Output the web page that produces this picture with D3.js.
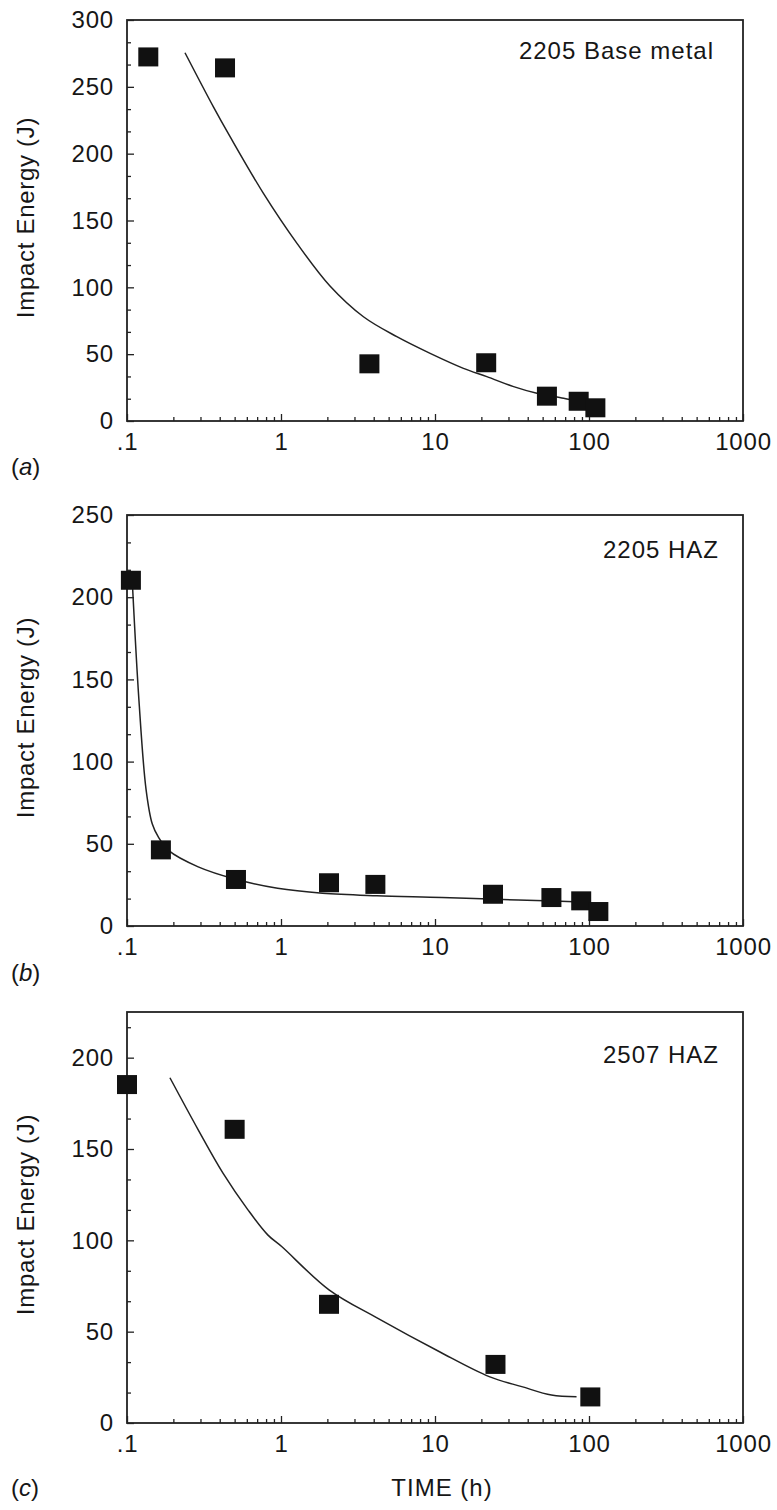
<!DOCTYPE html>
<html>
<head>
<meta charset="utf-8">
<script src="https://cdn.jsdelivr.net/npm/d3@7"></script>
<style>
  body { margin: 0; background: #fff; }
  svg text { font-family: "Liberation Sans", Arial, Helvetica, sans-serif; fill: #161616; }
</style>
</head>
<body>
<div id="graf"></div>
<script>
// Data
const xTicks = [0.1, 1, 10, 100, 1000]
const xTickLabels = [".1", "1", "10", "100", "1000"]
const panelNames = ["2205 Base metal", "2205 HAZ", "2507 HAZ"]
const panelLetters = ["a", "b", "c"]
const yMaxes = [300, 250, 225]
const yTicksA = [0, 50, 100, 150, 200, 250, 300]
const yTicksB = [0, 50, 100, 150, 200, 250]
const yTicksC = [0, 50, 100, 150, 200]

// (a) 2205 base metal
const timeA = [0.1375, 0.433, 3.75, 21.5, 53.3, 85.7, 110]
const energyA = [272, 263.8, 42.4, 43.2, 18.2, 14.4, 9.5]
const fitTimeA = [0.238, 0.364, 0.467, 0.769, 1.27, 2.08, 3.43, 5.65, 9.3, 15.3, 21.7, 32.4, 45.9, 68.4, 87.8]
const fitEnergyA = [275.5, 235, 212.7, 170.3, 132.9, 101, 78, 63.1, 50.6, 39.4, 33.2, 25.7, 20.7, 17, 14.4]

// (b) 2205 HAZ
const timeB = [0.106, 0.166, 0.51, 2.05, 4.1, 23.8, 57, 89, 115]
const energyB = [210, 46, 28, 26, 25, 19, 17, 15, 8.5]
const fitTimeB = [0.1087, 0.1196, 0.133, 0.146, 0.16, 0.186, 0.29, 0.51, 0.95, 1.86, 4.2, 11.1, 25, 59, 103]
const fitEnergyB = [206, 137, 83, 62, 54, 46, 36, 28.4, 22.9, 19.9, 18.4, 17.4, 16.2, 15.2, 14.4]

// (c) 2507 HAZ
const timeC = [0.1, 0.5, 2.05, 24.7, 102]
const energyC = [185, 160.5, 64.7, 31.8, 14]
const fitTimeC = [0.19, 0.29, 0.42, 0.61, 0.82, 1.01, 2.05, 4.23, 10.7, 22.5, 36.6, 57, 83]
const fitEnergyC = [189, 160.5, 136.8, 116.7, 103, 96.6, 72.9, 57.4, 39, 25.4, 19.9, 15.3, 14.4]

const anchoTotal = 777
const altoTotal = 1510
const left = 127, right = 743

const svg = d3.select("#graf")
  .append("svg")
  .attr("width", anchoTotal)
  .attr("height", altoTotal)

const panels = [
  { top: 20, bottom: 421, yTicks: yTicksA, t: timeA, e: energyA, ft: fitTimeA, fe: fitEnergyA, titleX: 714, titleY: 59, letterY: 475 },
  { top: 515, bottom: 926, yTicks: yTicksB, t: timeB, e: energyB, ft: fitTimeB, fe: fitEnergyB, titleX: 719, titleY: 558, letterY: 981 },
  { top: 1012, bottom: 1423, yTicks: yTicksC, t: timeC, e: energyC, ft: fitTimeC, fe: fitEnergyC, titleX: 719, titleY: 1063, letterY: 1496 },
]

const x = d3.scaleLog().domain([0.1, 1000]).range([left, right])
const minorX = []
for (let d = 0.1; d < 1000; d *= 10) for (let k = 2; k <= 9; k++) minorX.push(d * k)

const fontSize = "24px"

panels.forEach((p, i) => {
  const y = d3.scaleLinear().domain([0, yMaxes[i]]).range([p.bottom, p.top])
  const g = svg.append("g")

  // minor x ticks
  g.append("g")
    .attr("transform", `translate(0, ${p.bottom})`)
    .call(d3.axisBottom(x).tickValues(minorX).tickSize(-4).tickFormat(""))
    .call(a => a.select(".domain").remove())
  // major x ticks + labels
  g.append("g")
    .attr("transform", `translate(0, ${p.bottom})`)
    .call(d3.axisBottom(x).tickValues(xTicks).tickSize(-7).tickPadding(12)
      .tickFormat((d, j) => xTickLabels[j]))
    .call(a => a.select(".domain").remove())

  // minor y ticks
  const step = p.yTicks[1] - p.yTicks[0]
  const minorY = d3.range(0, yMaxes[i] + 0.01, step / 3).filter(v => Math.abs(v / step - Math.round(v / step)) > 0.01)
  g.append("g")
    .attr("transform", `translate(${left}, 0)`)
    .call(d3.axisLeft(y).tickValues(minorY).tickSize(-4).tickFormat(""))
    .call(a => a.select(".domain").remove())
  g.append("g")
    .attr("transform", `translate(${left}, 0)`)
    .call(d3.axisLeft(y).tickValues(p.yTicks).tickSize(-7).tickPadding(13).tickFormat(d3.format("d")))
    .call(a => a.select(".domain").remove())

  g.selectAll(".tick line").attr("stroke", "#222").attr("stroke-width", 1.3)
  g.selectAll(".tick text")
    .style("font-size", fontSize)
    .style("letter-spacing", "0.8px")
    .attr("fill", "#161616")

  // frame
  g.append("rect")
    .attr("x", left).attr("y", p.top)
    .attr("width", right - left).attr("height", p.bottom - p.top)
    .attr("fill", "none").attr("stroke", "#222").attr("stroke-width", 1.8)

  // fitted curve
  const line = d3.line()
    .x(d => x(d[0]))
    .y(d => y(d[1]))
    .curve(d3.curveCatmullRom.alpha(0.5))
  g.append("path")
    .datum(p.ft.map((t, j) => [t, p.fe[j]]))
    .attr("d", line)
    .attr("fill", "none")
    .attr("stroke", "#222")
    .attr("stroke-width", 1.5)

  // data squares
  const sq = 20
  g.selectAll("rect.pt")
    .data(p.t.map((t, j) => [t, p.e[j]]))
    .join("rect")
    .attr("class", "pt")
    .attr("x", d => x(d[0]) - sq / 2)
    .attr("y", d => y(d[1]) - sq / 2)
    .attr("width", sq)
    .attr("height", sq - 1)
    .attr("fill", "#111")

  // panel title
  g.append("text")
    .attr("x", p.titleX).attr("y", p.titleY)
    .attr("text-anchor", "end")
    .style("font-size", fontSize)
    .style("letter-spacing", "1px")
    .text(panelNames[i])

  // y label
  const cy = (p.top + p.bottom) / 2 - 3
  g.append("text")
    .attr("transform", `translate(34, ${cy}) rotate(-90)`)
    .attr("text-anchor", "middle")
    .style("font-size", fontSize)
    .style("letter-spacing", "0.7px")
    .text("Impact Energy (J)")

  // panel letter
  const lt = g.append("text")
    .attr("x", 11).attr("y", p.letterY)
    .style("font-size", fontSize)
  lt.append("tspan").text("(")
  lt.append("tspan").style("font-style", "italic").text(panelLetters[i])
  lt.append("tspan").text(")")
})

// x axis title (bottom panel only)
svg.append("text")
  .attr("x", 442).attr("y", 1496)
  .attr("text-anchor", "middle")
  .style("font-size", fontSize)
  .style("letter-spacing", "1px")
  .text("TIME (h)")
</script>
</body>
</html>
